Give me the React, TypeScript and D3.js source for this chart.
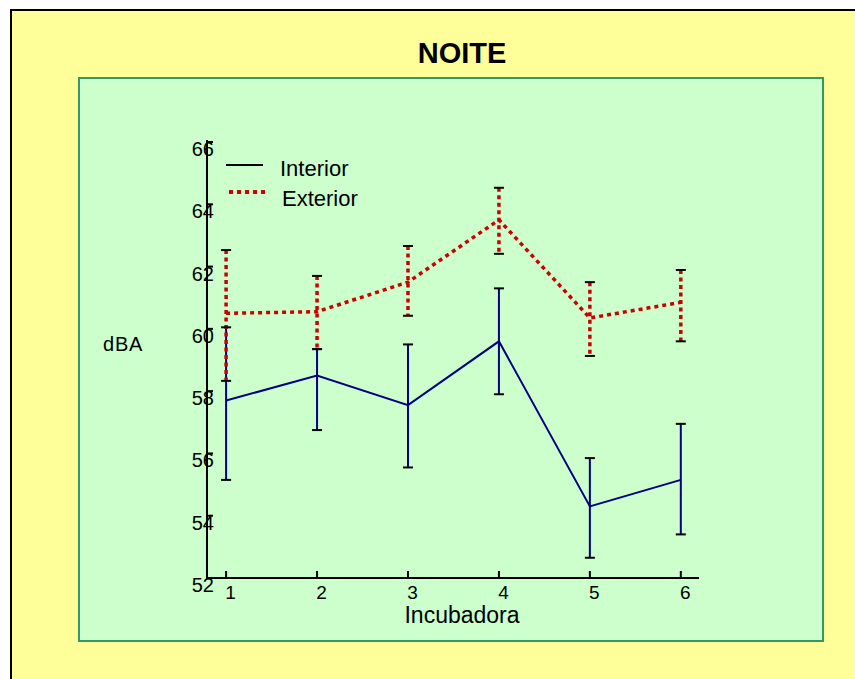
import React from "react";
import * as d3 from "d3";

// incubator number on x, noise level (dBA) on y
const incubadoras = [1, 2, 3, 4, 5, 6];
const interiorMean = [57.7, 58.5, 57.55, 59.6, 54.3, 55.15];
const interiorUpper = [60.05, 59.35, 59.5, 61.3, 55.85, 56.95];
const interiorLower = [55.15, 56.75, 55.55, 57.9, 52.65, 53.4];
const exteriorMean = [60.5, 60.55, 61.5, 63.5, 60.35, 60.85];
const exteriorUpper = [62.53, 61.7, 62.66, 64.53, 61.5, 61.89];
const exteriorLower = [58.33, 59.35, 60.42, 62.41, 59.13, 59.6];
const yTicks = [52, 54, 56, 58, 60, 62, 64, 66];

const font = "'Liberation Sans', Arial, sans-serif";

const App = () => {
  const width = 855;
  const height = 679;

  const x = d3.scaleLinear().domain([0.79, 6.2]).range([207, 699]);
  const y = d3.scaleLinear().domain([52, 66]).range([578, 142]);

  const line = d3
    .line<number>()
    .x((d, i) => x(incubadoras[i]))
    .y((d) => y(d));

  const capW = 5;

  const errorBars = (upper, lower, color, dotted) =>
    incubadoras.map((inc, i) => (
      <line
        key={inc}
        x1={x(inc)}
        x2={x(inc)}
        y1={y(upper[i])}
        y2={y(lower[i])}
        stroke={color}
        strokeWidth={dotted ? 3.5 : 2}
        strokeDasharray={dotted ? "4 3.5" : null}
      />
    ));

  const caps = (upper, lower) =>
    incubadoras.map((inc, i) => (
      <g key={inc}>
        <line x1={x(inc) - capW} x2={x(inc) + capW} y1={y(upper[i])} y2={y(upper[i])} stroke="#000" strokeWidth={2} />
        <line x1={x(inc) - capW} x2={x(inc) + capW} y1={y(lower[i])} y2={y(lower[i])} stroke="#000" strokeWidth={2} />
      </g>
    ));

  return (
    <svg
      width={width}
      height={height}
      style={{ position: "absolute", left: 0, top: 0, display: "block" }}
      fontFamily={font}
    >
      <rect x={0} y={0} width={width} height={height} fill="#fff" />
      {/* outer frame */}
      <rect x={11} y={10} width={900} height={800} fill="#FFFF99" stroke="#000" strokeWidth={2} />
      {/* plot panel */}
      <rect x={79} y={78} width={744} height={563} fill="#CCFFCC" stroke="#339966" strokeWidth={2} />

      <text x={462} y={63} textAnchor="middle" fontSize={29} fontWeight="bold" fill="#000">
        NOITE
      </text>

      {/* interior series */}
      {errorBars(interiorUpper, interiorLower, "#000080", false)}
      <path d={line(interiorMean)} fill="none" stroke="#000080" strokeWidth={2} />

      {/* exterior series */}
      {errorBars(exteriorUpper, exteriorLower, "#CC0000", true)}
      <path d={line(exteriorMean)} fill="none" stroke="#CC0000" strokeWidth={3.5} strokeDasharray="4 4" />

      {caps(interiorUpper, interiorLower)}
      {caps(exteriorUpper, exteriorLower)}

      {/* axes */}
      <line x1={207} x2={207} y1={y(66) - 2} y2={y(52) + 1} stroke="#000" strokeWidth={2} />
      <line x1={206} x2={699} y1={y(52)} y2={y(52)} stroke="#000" strokeWidth={2} />
      {yTicks.map((t) => (
        <g key={t}>
          <line x1={207} x2={213} y1={y(t)} y2={y(t)} stroke="#000" strokeWidth={2} />
          <text x={214} y={y(t) + 14} textAnchor="end" fontSize={20} fill="#000">
            {t}
          </text>
        </g>
      ))}
      {incubadoras.map((t) => (
        <g key={t}>
          <line x1={x(t)} x2={x(t)} y1={y(52)} y2={y(52) - 7} stroke="#000" strokeWidth={2} />
          <text x={x(t) + 4.5} y={599} textAnchor="middle" fontSize={19} fill="#000">
            {t}
          </text>
        </g>
      ))}

      <text x={462} y={623} textAnchor="middle" fontSize={23} fill="#000">
        Incubadora
      </text>
      <text x={103} y={351} fontSize={20} letterSpacing={0.8} fill="#000">
        dBA
      </text>

      {/* legend */}
      <line x1={226} x2={263} y1={165} y2={165} stroke="#000" strokeWidth={2} />
      <text x={280} y={176} fontSize={22} fill="#000">
        Interior
      </text>
      <line x1={229} x2={267} y1={192} y2={192} stroke="#CC0000" strokeWidth={4} strokeDasharray="4 4" />
      <text x={282} y={206} fontSize={22} fill="#000">
        Exterior
      </text>
    </svg>
  );
};

export default App;
